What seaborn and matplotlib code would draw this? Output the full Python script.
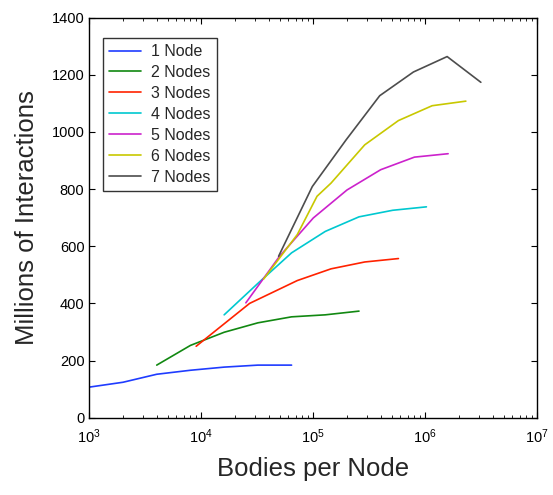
import pandas as pd
import seaborn as sns
import matplotlib.pyplot as plt

# Bodies per node (x) and millions of interactions (y)
x1 = [1000, 2000, 4000, 8000, 16000, 32000, 64000]
y1 = [107, 124, 152, 166, 177, 184, 184]
x2 = [4000, 8000, 16000, 32000, 64000, 128000, 256000]
y2 = [184, 253, 299, 332, 353, 360, 373]
x3 = [9000, 27000, 72000, 144000, 288000, 576000]
y3 = [250, 400, 480, 521, 545, 557]
x4 = [16000, 32000, 64000, 128000, 256000, 512000, 1024000]
y4 = [360, 470, 577, 652, 703, 726, 738]
x5 = [25000, 50000, 100000, 200000, 400000, 800000, 1600000]
y5 = [402, 565, 699, 797, 868, 912, 924]
x6 = [36000, 72000, 108000, 144000, 288000, 576000, 1152000, 2304000]
y6 = [485, 641, 775, 821, 955, 1040, 1092, 1108]
x7 = [49000, 98000, 196000, 392000, 784000, 1568000, 3136000]
y7 = [565, 809, 972, 1127, 1210, 1264, 1174]

labels = ['1 Node', '2 Nodes', '3 Nodes', '4 Nodes', '5 Nodes', '6 Nodes', '7 Nodes']
colors = ['#1f3cff', '#118811', '#ff2200', '#00c8d0', '#cc22cc', '#c8c800', '#4d4d4d']

frames = []
for lab, xs, ys in zip(labels, [x1, x2, x3, x4, x5, x6, x7], [y1, y2, y3, y4, y5, y6, y7]):
    frames.append(pd.DataFrame({'bodies': xs, 'interactions': ys, 'nodes': lab}))
df = pd.concat(frames, ignore_index=True)

sns.set_style('ticks')
plt.rcParams['font.family'] = ['Liberation Sans', 'DejaVu Sans']

fig = plt.figure(figsize=(5.53, 4.95), dpi=100)
ax = fig.add_axes([0.1615, 0.1562, 0.81, 0.808])

sns.lineplot(data=df, x='bodies', y='interactions', hue='nodes', hue_order=labels,
             palette=colors, linewidth=1.2, ax=ax, sort=True, estimator=None)

ax.set_xscale('log')
ax.set_xlim(1e3, 1e7)
ax.set_ylim(0, 1400)
ax.set_yticks(range(0, 1401, 200))

for s in ax.spines.values():
    s.set_visible(True)
    s.set_linewidth(1.0)
    s.set_color('black')
ax.tick_params(which='both', direction='in', top=True, right=True, labelsize=10.5, colors='black')
ax.tick_params(which='major', length=4.5, width=0.8)
ax.tick_params(which='minor', length=2.5, width=0.6)
ax.tick_params(axis='x', which='major', pad=7)

ax.set_xlabel('Bodies per Node', fontsize=18.5, labelpad=8)
ax.set_ylabel('Millions of Interactions', fontsize=18.5, labelpad=9)

leg = ax.legend(loc='upper left', bbox_to_anchor=(0.030, 0.95), borderaxespad=0,
                fontsize=11.5, frameon=True, fancybox=False, labelspacing=0.37,
                handlelength=2.0, handletextpad=0.65, borderpad=0.4)
leg.get_frame().set_edgecolor('black')
leg.get_frame().set_linewidth(1.0)

fig.savefig('out.png', dpi=100)
